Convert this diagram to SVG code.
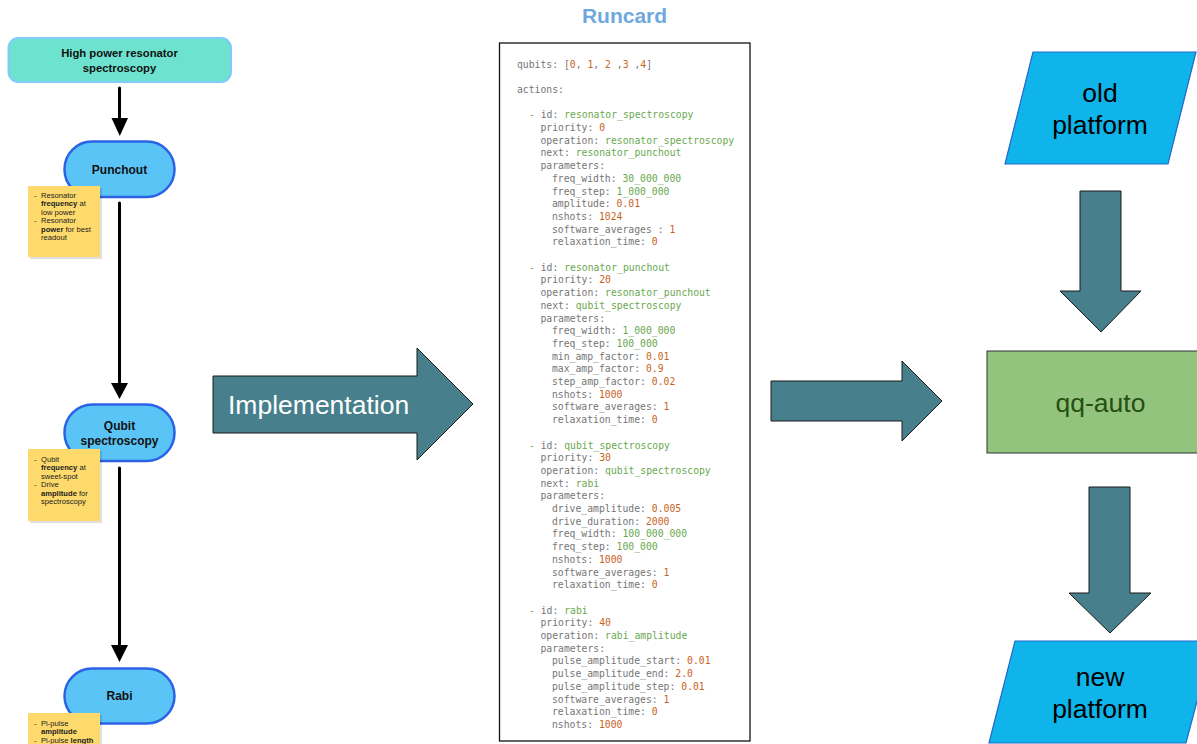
<svg xmlns="http://www.w3.org/2000/svg" width="1197" height="744" viewBox="0 0 1197 744">
<style>
.node{font-family:"Liberation Sans",Arial,sans-serif;font-weight:bold;fill:#111;text-anchor:middle}
.stad{fill:#5BC4F6;stroke:#2B63E6;stroke-width:2.5}
.note{fill:#FDDA6B}
.nshadow{fill:#000;opacity:0.12}
.nt{font-family:"Liberation Sans",Arial,sans-serif;font-size:7.6px;fill:#222}
.nt .b{font-weight:bold}
.code{font-family:"DejaVu Sans Mono","Liberation Mono",monospace;font-size:9.75px;fill:#767676;white-space:pre}
.s{fill:#6AA84F}
.n{fill:#C8641E}
.big{fill:#477F8C;stroke:#1a1a1a;stroke-width:1}
.lbl{font-family:"Liberation Sans",Arial,sans-serif;font-size:26.5px;text-anchor:middle}
.para{fill:#0FB5EA;stroke:#2266CC;stroke-width:1.2}
</style>

<g id="connectors" fill="#000" stroke="#000">
  <line x1="119.5" y1="88" x2="119.5" y2="119" stroke-width="3" stroke-linecap="round"/>
  <polygon points="111.5,118 128,118 119.8,136" stroke="none"/>
  <line x1="119.5" y1="203" x2="119.5" y2="384" stroke-width="3" stroke-linecap="round"/>
  <polygon points="111,383 128,383 119.5,399" stroke="none"/>
  <line x1="119.5" y1="468" x2="119.5" y2="646" stroke-width="3" stroke-linecap="round"/>
  <polygon points="111,645 128,645 119.5,662" stroke="none"/>
</g>

<g id="node-high-power">
  <rect x="8.5" y="38" width="222.5" height="44" rx="10" fill="#6DE3CF" stroke="#80CBF7" stroke-width="2"/>
  <text class="node" font-size="11.3" x="119.5" y="57">High power resonator</text>
  <text class="node" font-size="11.3" x="119.5" y="71.5">spectroscopy</text>
</g>

<g id="node-punchout">
  <rect class="stad" x="64.5" y="141.5" width="110" height="55.5" rx="27.5"/>
  <text class="node" font-size="12" x="119.5" y="173.5">Punchout</text>
</g>

<g id="note-punchout">
  <rect class="nshadow" x="30" y="188" width="72" height="71"/>
  <rect class="note" x="28" y="186" width="72" height="71"/>
  <text class="nt" x="34" y="198">-</text>
  <text class="nt" x="41" y="198">Resonator</text>
  <text class="nt" x="41" y="206.4"><tspan class="b">frequency</tspan> at</text>
  <text class="nt" x="41" y="214.8">low power</text>
  <text class="nt" x="34" y="223.2">-</text>
  <text class="nt" x="41" y="223.2">Resonator</text>
  <text class="nt" x="41" y="231.6"><tspan class="b">power</tspan> for best</text>
  <text class="nt" x="41" y="240">readout</text>
</g>

<g id="node-qubit">
  <rect class="stad" x="64.5" y="404.5" width="110" height="56.5" rx="28"/>
  <text class="node" font-size="12" x="119.5" y="429.5">Qubit</text>
  <text class="node" font-size="12" x="119.5" y="445">spectroscopy</text>
</g>

<g id="note-qubit">
  <rect class="nshadow" x="30" y="451" width="72" height="72"/>
  <rect class="note" x="28" y="449" width="72" height="72"/>
  <text class="nt" x="34" y="462">-</text>
  <text class="nt" x="41" y="462">Qubit</text>
  <text class="nt" x="41" y="470.4"><tspan class="b">frequency</tspan> at</text>
  <text class="nt" x="41" y="478.8">sweet-spot</text>
  <text class="nt" x="34" y="487.2">-</text>
  <text class="nt" x="41" y="487.2">Drive</text>
  <text class="nt" x="41" y="495.6"><tspan class="b">amplitude</tspan> for</text>
  <text class="nt" x="41" y="504">spectroscopy</text>
</g>

<g id="node-rabi">
  <rect class="stad" x="64.5" y="668.5" width="110" height="55" rx="27.5"/>
  <text class="node" font-size="12" x="119.5" y="700">Rabi</text>
</g>

<g id="note-rabi">
  <rect class="nshadow" x="30" y="715" width="72" height="40"/>
  <rect class="note" x="28" y="713" width="72" height="40"/>
  <text class="nt" x="34" y="726">-</text>
  <text class="nt" x="41" y="726">Pi-pulse</text>
  <text class="nt" x="41" y="734.4"><tspan class="b">amplitude</tspan></text>
  <text class="nt" x="34" y="742.8">-</text>
  <text class="nt" x="41" y="742.8">Pi-pulse <tspan class="b">length</tspan></text>
</g>

<g id="implementation-arrow">
  <polygon class="big" points="213,376 417,376 417,348 473,404 417,460 417,433 213,433"/>
  <text x="228" y="414" font-family="'Liberation Sans',Arial,sans-serif" font-size="26.5" fill="#fff">Implementation</text>
</g>

<g id="runcard">
  <text x="624.5" y="23" font-family="'Liberation Sans',Arial,sans-serif" font-weight="bold" font-size="21" fill="#6FA8DC" text-anchor="middle">Runcard</text>
  <rect x="499.5" y="43" width="250.5" height="698" fill="#fff" stroke="#111" stroke-width="1.3"/>
  <g class="code">
    <text x="517" y="67.5">qubits: [<tspan class="n">0</tspan>, <tspan class="n">1</tspan>, <tspan class="n">2</tspan> ,<tspan class="n">3</tspan> ,<tspan class="n">4</tspan>]</text>
    <text x="517" y="92.9">actions:</text>

    <text x="529" y="118.3"><tspan class="s">-</tspan> id: <tspan class="s">resonator_spectroscopy</tspan></text>
    <text x="540.5" y="131.0">priority: <tspan class="n">0</tspan></text>
    <text x="540.5" y="143.7">operation: <tspan class="s">resonator_spectroscopy</tspan></text>
    <text x="540.5" y="156.4">next: <tspan class="s">resonator_punchout</tspan></text>
    <text x="540.5" y="169.1">parameters:</text>
    <text x="552" y="181.8">freq_width: <tspan class="s">30_000_000</tspan></text>
    <text x="552" y="194.5">freq_step: <tspan class="s">1_000_000</tspan></text>
    <text x="552" y="207.2">amplitude: <tspan class="n">0.01</tspan></text>
    <text x="552" y="219.9">nshots: <tspan class="n">1024</tspan></text>
    <text x="552" y="232.6">software_averages : <tspan class="n">1</tspan></text>
    <text x="552" y="245.3">relaxation_time: <tspan class="n">0</tspan></text>

    <text x="529" y="270.7"><tspan class="s">-</tspan> id: <tspan class="s">resonator_punchout</tspan></text>
    <text x="540.5" y="283.4">priority: <tspan class="n">20</tspan></text>
    <text x="540.5" y="296.1">operation: <tspan class="s">resonator_punchout</tspan></text>
    <text x="540.5" y="308.8">next: <tspan class="s">qubit_spectroscopy</tspan></text>
    <text x="540.5" y="321.5">parameters:</text>
    <text x="552" y="334.2">freq_width: <tspan class="s">1_000_000</tspan></text>
    <text x="552" y="346.9">freq_step: <tspan class="s">100_000</tspan></text>
    <text x="552" y="359.6">min_amp_factor: <tspan class="n">0.01</tspan></text>
    <text x="552" y="372.3">max_amp_factor: <tspan class="n">0.9</tspan></text>
    <text x="552" y="385.0">step_amp_factor: <tspan class="n">0.02</tspan></text>
    <text x="552" y="397.7">nshots: <tspan class="n">1000</tspan></text>
    <text x="552" y="410.4">software_averages: <tspan class="n">1</tspan></text>
    <text x="552" y="423.1">relaxation_time: <tspan class="n">0</tspan></text>

    <text x="529" y="448.5"><tspan class="s">-</tspan> id: <tspan class="s">qubit_spectroscopy</tspan></text>
    <text x="540.5" y="461.2">priority: <tspan class="n">30</tspan></text>
    <text x="540.5" y="473.9">operation: <tspan class="s">qubit_spectroscopy</tspan></text>
    <text x="540.5" y="486.6">next: <tspan class="s">rabi</tspan></text>
    <text x="540.5" y="499.3">parameters:</text>
    <text x="552" y="512.0">drive_amplitude: <tspan class="n">0.005</tspan></text>
    <text x="552" y="524.7">drive_duration: <tspan class="n">2000</tspan></text>
    <text x="552" y="537.4">freq_width: <tspan class="s">100_000_000</tspan></text>
    <text x="552" y="550.1">freq_step: <tspan class="s">100_000</tspan></text>
    <text x="552" y="562.8">nshots: <tspan class="n">1000</tspan></text>
    <text x="552" y="575.5">software_averages: <tspan class="n">1</tspan></text>
    <text x="552" y="588.2">relaxation_time: <tspan class="n">0</tspan></text>

    <text x="529" y="613.6"><tspan class="s">-</tspan> id: <tspan class="s">rabi</tspan></text>
    <text x="540.5" y="626.3">priority: <tspan class="n">40</tspan></text>
    <text x="540.5" y="639.0">operation: <tspan class="s">rabi_amplitude</tspan></text>
    <text x="540.5" y="651.7">parameters:</text>
    <text x="552" y="664.4">pulse_amplitude_start: <tspan class="n">0.01</tspan></text>
    <text x="552" y="677.1">pulse_amplitude_end: <tspan class="n">2.0</tspan></text>
    <text x="552" y="689.8">pulse_amplitude_step: <tspan class="n">0.01</tspan></text>
    <text x="552" y="702.5">software_averages: <tspan class="n">1</tspan></text>
    <text x="552" y="715.2">relaxation_time: <tspan class="n">0</tspan></text>
    <text x="552" y="727.9">nshots: <tspan class="n">1000</tspan></text>
  </g>
</g>

<g id="runcard-to-qq-arrow">
  <polygon class="big" points="771,381 902,381 902,361 942,401 902,441 902,421 771,421"/>
</g>

<g id="node-old-platform">
  <polygon class="para" points="1033,52 1196,52 1168,164 1005,164"/>
  <text class="lbl" x="1100" y="101.5" fill="#000">old</text>
  <text class="lbl" x="1100" y="133.5" fill="#000">platform</text>
</g>

<g id="old-to-qq-arrow">
  <polygon class="big" points="1080,191 1121,191 1121,291 1141,291 1101,332 1060,291 1080,291"/>
</g>

<g id="node-qq-auto">
  <rect x="987" y="351" width="215" height="102" fill="#93C47D" stroke="#333" stroke-width="1"/>
  <text class="lbl" x="1100.5" y="412" fill="#274E13">qq-auto</text>
</g>

<g id="qq-to-new-arrow">
  <polygon class="big" points="1089,487 1130,487 1130,593 1151,593 1110,633 1069,593 1089,593"/>
</g>

<g id="node-new-platform">
  <polygon class="para" points="1015,641 1213,641 1186,743 989,743"/>
  <text class="lbl" x="1100" y="685.5" fill="#000">new</text>
  <text class="lbl" x="1100" y="717.5" fill="#000">platform</text>
</g>
</svg>
